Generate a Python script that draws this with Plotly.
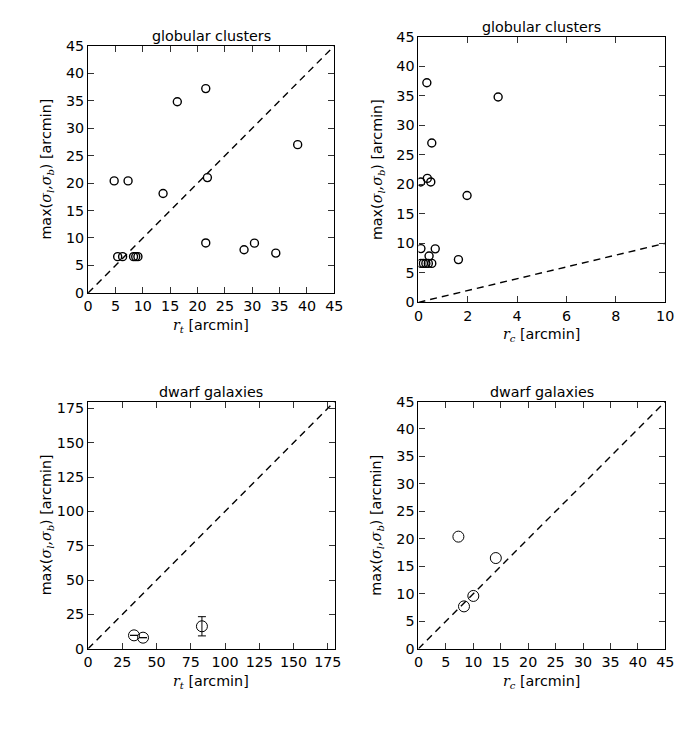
import plotly.graph_objects as go

# ---- data ----
gc_rt = [4.76, 7.3, 5.4, 6.3, 8.3, 8.7, 9.1, 13.7, 16.3, 21.5, 21.8, 21.5, 28.5, 30.4, 34.3, 38.3]
gc_rc = [0.09, 0.5, 0.1, 0.2, 0.3, 0.4, 0.54, 1.97, 3.23, 0.34, 0.36, 0.1, 0.43, 0.68, 1.62, 0.54]
gc_sig = [20.4, 20.4, 6.6, 6.6, 6.6, 6.6, 6.6, 18.1, 34.8, 37.2, 21.0, 9.1, 7.85, 9.06, 7.24, 27.0]

dw_rt = [33.5, 40.1, 83.1]
dw_sig_t = [9.7, 8.0, 16.3]
dw_err_t = [0, 0, 7.0]
dw_rc = [7.28, 8.3, 10.0, 14.1]
dw_sig_c = [20.4, 7.7, 9.6, 16.5]

one_to_one = {"x1": [0, 45], "x2": [0, 10], "x3": [0, 180], "x4": [0, 45]}

xt_45 = [0, 5, 10, 15, 20, 25, 30, 35, 40, 45]
xt_10 = [0, 2, 4, 6, 8, 10]
xt_180 = [0, 25, 50, 75, 100, 125, 150, 175]

titles = ["globular clusters", "globular clusters", "dwarf galaxies", "dwarf galaxies"]

W, H = 700, 730
FONT = "DejaVu Sans"
# observed mapping of page pixels to the photographed picture
OX, OY, SX, SY = 4.0, 8.0, 0.982, 0.976
FS = 14 / 0.979

def fx(px):
    return ((px - OX) / SX) / W

def fy(py):
    return 1 - ((py - OY) / SY) / H

# panel boxes in target pixels: (left, right, top, bottom)
boxes = [(87.3, 334.0, 45.7, 292.3),
         (418.3, 665.5, 36.7, 301.7),
         (87.3, 334.3, 400.7, 647.3),
         (418.3, 665.7, 400.7, 647.3)]

ranges = [([0, 45], [0, 45], xt_45, xt_45),
          ([0, 10], [0, 45], xt_10, xt_45),
          ([0, 180], [0, 180], xt_180, xt_180),
          ([0, 45], [0, 45], xt_45, xt_45)]

fig = go.Figure()

mk_small = dict(symbol="circle-open", size=8, color="black", line=dict(width=1.4, color="black"))
mk_big = dict(symbol="circle-open", size=11, color="black", line=dict(width=1.0, color="black"))
dash_line = dict(color="black", width=1.4, dash="7px,5px")

# reference lines
for i, key in enumerate(["x1", "x2", "x3", "x4"]):
    ax = "" if i == 0 else str(i + 1)
    fig.add_trace(go.Scatter(x=one_to_one[key], y=one_to_one[key], mode="lines",
                             line=dash_line, xaxis="x" + ax, yaxis="y" + ax,
                             showlegend=False, hoverinfo="skip"))

fig.add_trace(go.Scatter(x=gc_rt, y=gc_sig, mode="markers", marker=mk_small,
                         xaxis="x", yaxis="y", showlegend=False))
fig.add_trace(go.Scatter(x=gc_rc, y=gc_sig, mode="markers", marker=mk_small,
                         xaxis="x2", yaxis="y2", showlegend=False))
fig.add_trace(go.Scatter(x=dw_rt, y=dw_sig_t, mode="markers", marker=mk_big,
                         error_y=dict(type="data", array=dw_err_t, visible=True,
                                      color="black", thickness=1.0, width=4),
                         xaxis="x3", yaxis="y3", showlegend=False))
fig.add_trace(go.Scatter(x=dw_rc, y=dw_sig_c, mode="markers", marker=mk_big,
                         xaxis="x4", yaxis="y4", showlegend=False))

layout = dict(width=W, height=H, margin=dict(l=0, r=0, t=0, b=0),
              paper_bgcolor="white", plot_bgcolor="white",
              font=dict(family=FONT, size=FS, color="black"))

axis_common = dict(showgrid=False, zeroline=False, showline=True, linecolor="black",
                   linewidth=1.2, mirror="ticks", ticks="inside", ticklen=6,
                   tickwidth=1, tickcolor="#333", tickfont=dict(size=FS, family=FONT))

SERIF = '<span style="font-family:DejaVu Serif">'
annotations = []
ylab = ("max(" + SERIF + "<i>σ</i><sub><i>l</i></sub>,<i>σ</i><sub><i>b</i></sub></span>) [arcmin]")
xlabs = [SERIF + "<i>r</i><sub><i>t</i></sub></span> [arcmin]",
         SERIF + "<i>r</i><sub><i>c</i></sub></span> [arcmin]",
         SERIF + "<i>r</i><sub><i>t</i></sub></span> [arcmin]",
         SERIF + "<i>r</i><sub><i>c</i></sub></span> [arcmin]"]

for i, (box, rg) in enumerate(zip(boxes, ranges)):
    l, r, t, b = box
    ax = "" if i == 0 else str(i + 1)
    xr, yr, xt, yt = rg
    layout["xaxis" + ax] = dict(axis_common, domain=[fx(l), fx(r)], range=xr,
                                tickvals=xt, anchor="y" + ax)
    layout["yaxis" + ax] = dict(axis_common, domain=[fy(b), fy(t)], range=yr,
                                tickvals=yt, anchor="x" + ax)
    cx = (l + r) / 2
    annotations.append(dict(text=titles[i], x=fx(cx), y=fy(t - 10), xref="paper", yref="paper",
                            showarrow=False, font=dict(size=FS, family=FONT),
                            xanchor="center", yanchor="middle"))
    annotations.append(dict(text=xlabs[i], x=fx(cx), y=fy(b + 33), xref="paper", yref="paper",
                            showarrow=False, font=dict(size=FS, family=FONT),
                            xanchor="center", yanchor="middle"))
    cy = (t + b) / 2
    annotations.append(dict(text=ylab, x=fx(l - 41), y=fy(cy), xref="paper", yref="paper",
                            showarrow=False, textangle=-90, font=dict(size=FS, family=FONT),
                            xanchor="center", yanchor="middle"))

layout["annotations"] = annotations
fig.update_layout(**layout)
fig.write_html("out.html", config={"displayModeBar": False},
               post_script="document.documentElement.style.margin='0';document.body.style.margin='0';"
                           "document.documentElement.style.overflow='hidden';document.body.style.overflow='hidden';")
